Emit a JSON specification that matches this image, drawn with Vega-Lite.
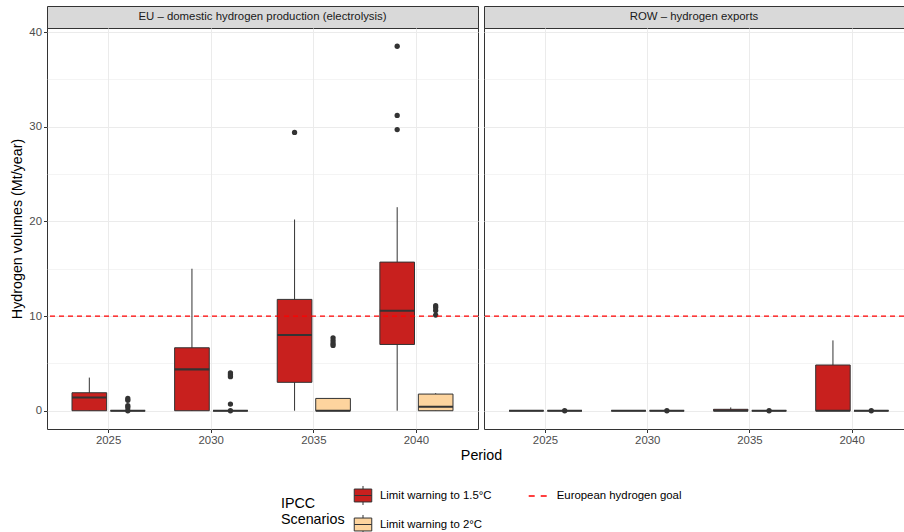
{
  "$schema": "https://vega.github.io/schema/vega-lite/v6.json",
  "padding": {"left": 10, "top": 5, "right": 0, "bottom": 0},
  "background": "white",
  "config": {
    "font": "Liberation Sans",
    "view": {"stroke": "#333333", "strokeWidth": 1}
  },
  "datasets": {
    "boxes": [
      {"panel": "EU", "period": "2025", "scenario": "Limit warning to 1.5°C", "lower": 0, "q1": 0, "median": 1.4, "q3": 1.9, "upper": 3.5},
      {"panel": "EU", "period": "2025", "scenario": "Limit warning to 2°C", "lower": 0, "q1": 0, "median": 0, "q3": 0, "upper": 0},
      {"panel": "EU", "period": "2030", "scenario": "Limit warning to 1.5°C", "lower": 0, "q1": 0, "median": 4.37, "q3": 6.65, "upper": 15.0},
      {"panel": "EU", "period": "2030", "scenario": "Limit warning to 2°C", "lower": 0, "q1": 0, "median": 0, "q3": 0, "upper": 0},
      {"panel": "EU", "period": "2035", "scenario": "Limit warning to 1.5°C", "lower": 0, "q1": 3.0, "median": 8.0, "q3": 11.76, "upper": 20.2},
      {"panel": "EU", "period": "2035", "scenario": "Limit warning to 2°C", "lower": 0, "q1": 0, "median": 0, "q3": 1.3, "upper": 1.3},
      {"panel": "EU", "period": "2040", "scenario": "Limit warning to 1.5°C", "lower": 0, "q1": 7.0, "median": 10.56, "q3": 15.7, "upper": 21.5},
      {"panel": "EU", "period": "2040", "scenario": "Limit warning to 2°C", "lower": 0, "q1": 0, "median": 0.42, "q3": 1.76, "upper": 1.85},
      {"panel": "ROW", "period": "2025", "scenario": "Limit warning to 1.5°C", "lower": 0, "q1": 0, "median": 0, "q3": 0, "upper": 0},
      {"panel": "ROW", "period": "2025", "scenario": "Limit warning to 2°C", "lower": 0, "q1": 0, "median": 0, "q3": 0, "upper": 0},
      {"panel": "ROW", "period": "2030", "scenario": "Limit warning to 1.5°C", "lower": 0, "q1": 0, "median": 0, "q3": 0, "upper": 0},
      {"panel": "ROW", "period": "2030", "scenario": "Limit warning to 2°C", "lower": 0, "q1": 0, "median": 0, "q3": 0, "upper": 0},
      {"panel": "ROW", "period": "2035", "scenario": "Limit warning to 1.5°C", "lower": 0, "q1": 0, "median": 0, "q3": 0.15, "upper": 0.35},
      {"panel": "ROW", "period": "2035", "scenario": "Limit warning to 2°C", "lower": 0, "q1": 0, "median": 0, "q3": 0, "upper": 0},
      {"panel": "ROW", "period": "2040", "scenario": "Limit warning to 1.5°C", "lower": 0, "q1": 0, "median": 0, "q3": 4.83, "upper": 7.43},
      {"panel": "ROW", "period": "2040", "scenario": "Limit warning to 2°C", "lower": 0, "q1": 0, "median": 0, "q3": 0, "upper": 0}
    ],
    "outliers": [
      {"panel": "EU", "period": "2025", "scenario": "Limit warning to 2°C", "value": 1.3},
      {"panel": "EU", "period": "2025", "scenario": "Limit warning to 2°C", "value": 1.1},
      {"panel": "EU", "period": "2025", "scenario": "Limit warning to 2°C", "value": 0.55},
      {"panel": "EU", "period": "2025", "scenario": "Limit warning to 2°C", "value": 0.35},
      {"panel": "EU", "period": "2025", "scenario": "Limit warning to 2°C", "value": 0},
      {"panel": "EU", "period": "2030", "scenario": "Limit warning to 2°C", "value": 4.0},
      {"panel": "EU", "period": "2030", "scenario": "Limit warning to 2°C", "value": 3.8},
      {"panel": "EU", "period": "2030", "scenario": "Limit warning to 2°C", "value": 3.6},
      {"panel": "EU", "period": "2030", "scenario": "Limit warning to 2°C", "value": 0.7},
      {"panel": "EU", "period": "2030", "scenario": "Limit warning to 2°C", "value": 0},
      {"panel": "EU", "period": "2035", "scenario": "Limit warning to 1.5°C", "value": 29.4},
      {"panel": "EU", "period": "2035", "scenario": "Limit warning to 2°C", "value": 7.7},
      {"panel": "EU", "period": "2035", "scenario": "Limit warning to 2°C", "value": 7.4},
      {"panel": "EU", "period": "2035", "scenario": "Limit warning to 2°C", "value": 7.1},
      {"panel": "EU", "period": "2035", "scenario": "Limit warning to 2°C", "value": 6.9},
      {"panel": "EU", "period": "2040", "scenario": "Limit warning to 1.5°C", "value": 38.5},
      {"panel": "EU", "period": "2040", "scenario": "Limit warning to 1.5°C", "value": 31.2},
      {"panel": "EU", "period": "2040", "scenario": "Limit warning to 1.5°C", "value": 29.7},
      {"panel": "EU", "period": "2040", "scenario": "Limit warning to 2°C", "value": 11.1},
      {"panel": "EU", "period": "2040", "scenario": "Limit warning to 2°C", "value": 10.9},
      {"panel": "EU", "period": "2040", "scenario": "Limit warning to 2°C", "value": 10.6},
      {"panel": "EU", "period": "2040", "scenario": "Limit warning to 2°C", "value": 10.1},
      {"panel": "ROW", "period": "2025", "scenario": "Limit warning to 2°C", "value": 0},
      {"panel": "ROW", "period": "2030", "scenario": "Limit warning to 2°C", "value": 0},
      {"panel": "ROW", "period": "2035", "scenario": "Limit warning to 2°C", "value": 0},
      {"panel": "ROW", "period": "2040", "scenario": "Limit warning to 2°C", "value": 0}
    ],
    "goal": [{"goal": 10, "label": "European hydrogen goal"}]
  },
  "columns": 2,
  "spacing": {"row": 0, "column": 6},
  "bounds": "flush",
  "resolve": {"scale": {"xOffset": "independent"}},
  "concat": [
    {
      "width": 431, "height": 22,
      "view": {"fill": "#d9d9d9", "stroke": "#333333"},
      "data": {"values": [{"label": "EU – domestic hydrogen production (electrolysis)"}]},
      "mark": {"type": "text", "fontSize": 11.4, "color": "#1a1a1a", "baseline": "middle"},
      "encoding": {"text": {"field": "label"}}
    },
    {
      "width": 420, "height": 22,
      "view": {"fill": "#d9d9d9", "stroke": "#333333"},
      "data": {"values": [{"label": "ROW – hydrogen exports"}]},
      "mark": {"type": "text", "fontSize": 11.4, "color": "#1a1a1a", "baseline": "middle"},
      "encoding": {"text": {"field": "label"}}
    },
    {
      "width": 431, "height": 401,
      "layer": [
        {
          "data": {"name": "boxes"},
          "transform": [{"filter": "datum.panel === 'EU'"}],
          "mark": {"type": "rule", "color": "#333333", "strokeWidth": 1},
          "encoding": {
            "x": {"field": "period", "type": "nominal", "title": "Period",
              "scale": {"paddingInner": 0, "paddingOuter": 0.1},
              "axis": {"titleX": 434, "titleFontSize": 14.3, "titleFontWeight": "normal", "titleColor": "black", "titlePadding": 3, "labelAngle": 0, "labelColor": "#4d4d4d", "labelFontSize": 11.4, "labelPadding": 2, "tickColor": "#333333", "tickSize": 3.5, "domain": false, "grid": true, "gridColor": "#ebebeb", "gridWidth": 1.07}},
            "xOffset": {"field": "scenario", "type": "nominal", "scale": {"paddingInner": 0.1, "paddingOuter": 0.383}},
            "y": {"field": "lower", "type": "quantitative", "title": "Hydrogen volumes (Mt/year)",
              "scale": {"domain": [-1.93, 40.43], "nice": false, "zero": false},
              "axis": {"values": [0, 5, 10, 15, 20, 25, 30, 35, 40],
                "labelExpr": "datum.value % 10 === 0 ? datum.label : ''",
                "tickOpacity": {"condition": {"test": "datum.value % 10 === 0", "value": 1}, "value": 0},
                "gridWidth": {"condition": {"test": "datum.value % 10 === 0", "value": 1.07}, "value": 0.53},
                "grid": true, "gridColor": "#ebebeb", "domain": false, "tickColor": "#333333", "tickSize": 3.5,
                "labelColor": "#4d4d4d", "labelFontSize": 11.4, "labelPadding": 2,
                "titleFontSize": 14.3, "titleColor": "black", "titleFontWeight": "normal", "titlePadding": 4}},
            "y2": {"field": "upper"}
          }
        },
        {
          "data": {"name": "boxes"},
          "transform": [{"filter": "datum.panel === 'EU'"}],
          "mark": {"type": "bar", "stroke": "#333333", "strokeWidth": 1, "opacity": 1},
          "encoding": {
            "x": {"field": "period", "type": "nominal", "title": "Period"},
            "xOffset": {"field": "scenario", "type": "nominal"},
            "y": {"field": "q1", "type": "quantitative", "title": "Hydrogen volumes (Mt/year)"},
            "y2": {"field": "q3"},
            "fill": {"field": "scenario", "type": "nominal",
              "scale": {"domain": ["Limit warning to 1.5°C", "Limit warning to 2°C"], "range": ["#c8201e", "#fdd49e"]},
              "legend": {"orient": "none", "legendX": 234, "legendY": 480.5, "direction": "vertical",
                "title": ["IPCC", "Scenarios"], "titleOrient": "left", "titleAnchor": "middle", "titleAlign": "left",
                "titleFontSize": 14.3, "titleFontWeight": "normal", "titleColor": "black", "titlePadding": 9,
                "symbolType": "M-1.03,-0.76H1.03V0.76H-1.03Z M-1.03,0H1.03 M0,-0.76V-1.12 M0,0.76V1.12",
                "symbolSize": 289, "symbolStrokeColor": "#333333", "symbolStrokeWidth": 1, "symbolOpacity": 1,
                "labelOffset": 8, "labelFontSize": 11.4, "labelColor": "black", "rowPadding": 5, "padding": 0}}
          }
        },
        {
          "data": {"name": "boxes"},
          "transform": [{"filter": "datum.panel === 'EU'"}],
          "mark": {"type": "bar", "fill": "transparent", "stroke": "#333333", "strokeWidth": 2.2},
          "encoding": {
            "x": {"field": "period", "type": "nominal", "title": "Period"},
            "xOffset": {"field": "scenario", "type": "nominal"},
            "y": {"field": "median", "type": "quantitative", "title": "Hydrogen volumes (Mt/year)"},
            "y2": {"field": "median"}
          }
        },
        {
          "data": {"name": "outliers"},
          "transform": [{"filter": "datum.panel === 'EU'"}],
          "mark": {"type": "circle", "size": 28, "color": "#333333", "opacity": 1},
          "encoding": {
            "x": {"field": "period", "type": "nominal", "title": "Period"},
            "xOffset": {"field": "scenario", "type": "nominal"},
            "y": {"field": "value", "type": "quantitative", "title": "Hydrogen volumes (Mt/year)"}
          }
        },
        {
          "data": {"name": "goal"},
          "mark": {"type": "rule", "strokeDash": [5, 4], "strokeWidth": 1.2},
          "encoding": {
            "y": {"field": "goal", "type": "quantitative", "title": "Hydrogen volumes (Mt/year)"},
            "stroke": {"field": "label", "type": "nominal",
              "scale": {"domain": ["European hydrogen goal"], "range": ["#ff0000"]},
              "legend": {"orient": "none", "legendX": 480.7, "legendY": 480, "title": null,
                "symbolType": "stroke", "symbolSize": 324, "symbolStrokeWidth": 1.3, "symbolDash": [6, 6],
                "labelOffset": 9, "labelFontSize": 11.4, "labelColor": "black", "padding": 0}}
          }
        }
      ]
    },
    {
      "width": 420, "height": 401,
      "layer": [
        {
          "data": {"name": "boxes"},
          "transform": [{"filter": "datum.panel === 'ROW'"}],
          "mark": {"type": "rule", "color": "#333333", "strokeWidth": 1},
          "encoding": {
            "x": {"field": "period", "type": "nominal", "title": null,
              "scale": {"paddingInner": 0, "paddingOuter": 0.0548, "align": 0.93},
              "axis": {"labelAngle": 0, "labelColor": "#4d4d4d", "labelFontSize": 11.4, "labelPadding": 2, "tickColor": "#333333", "tickSize": 3.5, "domain": false, "grid": true, "gridColor": "#ebebeb", "gridWidth": 1.07}},
            "xOffset": {"field": "scenario", "type": "nominal", "scale": {"paddingInner": 0.1, "paddingOuter": 0.383}},
            "y": {"field": "lower", "type": "quantitative", "title": null,
              "scale": {"domain": [-1.93, 40.43], "nice": false, "zero": false},
              "axis": {"values": [0, 5, 10, 15, 20, 25, 30, 35, 40], "labels": false, "ticks": false, "domain": false,
                "gridWidth": {"condition": {"test": "datum.value % 10 === 0", "value": 1.07}, "value": 0.53},
                "grid": true, "gridColor": "#ebebeb"}},
            "y2": {"field": "upper"}
          }
        },
        {
          "data": {"name": "boxes"},
          "transform": [{"filter": "datum.panel === 'ROW'"}],
          "mark": {"type": "bar", "stroke": "#333333", "strokeWidth": 1, "opacity": 1},
          "encoding": {
            "x": {"field": "period", "type": "nominal", "title": null},
            "xOffset": {"field": "scenario", "type": "nominal"},
            "y": {"field": "q1", "type": "quantitative", "title": null},
            "y2": {"field": "q3"},
            "fill": {"field": "scenario", "type": "nominal",
              "scale": {"domain": ["Limit warning to 1.5°C", "Limit warning to 2°C"], "range": ["#c8201e", "#fdd49e"]},
              "legend": {"orient": "none", "legendX": 234, "legendY": 480.5, "direction": "vertical",
                "title": ["IPCC", "Scenarios"], "titleOrient": "left", "titleAnchor": "middle", "titleAlign": "left",
                "titleFontSize": 14.3, "titleFontWeight": "normal", "titleColor": "black", "titlePadding": 9,
                "symbolType": "M-1.03,-0.76H1.03V0.76H-1.03Z M-1.03,0H1.03 M0,-0.76V-1.12 M0,0.76V1.12",
                "symbolSize": 289, "symbolStrokeColor": "#333333", "symbolStrokeWidth": 1, "symbolOpacity": 1,
                "labelOffset": 8, "labelFontSize": 11.4, "labelColor": "black", "rowPadding": 5, "padding": 0}}
          }
        },
        {
          "data": {"name": "boxes"},
          "transform": [{"filter": "datum.panel === 'ROW'"}],
          "mark": {"type": "bar", "fill": "transparent", "stroke": "#333333", "strokeWidth": 2.2},
          "encoding": {
            "x": {"field": "period", "type": "nominal", "title": null},
            "xOffset": {"field": "scenario", "type": "nominal"},
            "y": {"field": "median", "type": "quantitative", "title": null},
            "y2": {"field": "median"}
          }
        },
        {
          "data": {"name": "outliers"},
          "transform": [{"filter": "datum.panel === 'ROW'"}],
          "mark": {"type": "circle", "size": 28, "color": "#333333", "opacity": 1},
          "encoding": {
            "x": {"field": "period", "type": "nominal", "title": null},
            "xOffset": {"field": "scenario", "type": "nominal"},
            "y": {"field": "value", "type": "quantitative", "title": null}
          }
        },
        {
          "data": {"name": "goal"},
          "mark": {"type": "rule", "strokeDash": [5, 4], "strokeWidth": 1.2},
          "encoding": {
            "y": {"field": "goal", "type": "quantitative", "title": null},
            "stroke": {"field": "label", "type": "nominal",
              "scale": {"domain": ["European hydrogen goal"], "range": ["#ff0000"]},
              "legend": {"orient": "none", "legendX": 480.7, "legendY": 480, "title": null,
                "symbolType": "stroke", "symbolSize": 324, "symbolStrokeWidth": 1.3, "symbolDash": [6, 6],
                "labelOffset": 9, "labelFontSize": 11.4, "labelColor": "black", "padding": 0}}
          }
        }
      ]
    }
  ]
}
